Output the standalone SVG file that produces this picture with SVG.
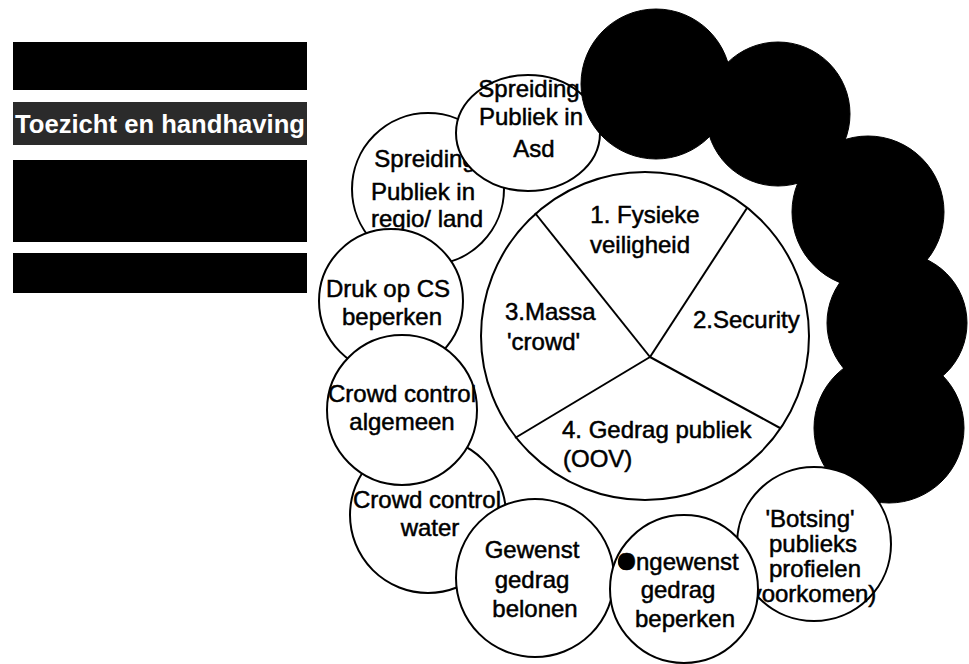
<svg xmlns="http://www.w3.org/2000/svg" width="969" height="664" viewBox="0 0 969 664">
<style>
.bx{fill:#000}
.wc{fill:#fff;stroke:#000;stroke-width:2}
.bc{fill:#000;stroke:#000;stroke-width:1}
.t{font-family:"Liberation Sans",Arial,sans-serif;font-size:24px;fill:#000;stroke:#000;stroke-width:0.5;text-anchor:middle}
.tl{font-family:"Liberation Sans",Arial,sans-serif;font-size:24px;fill:#000;stroke:#000;stroke-width:0.5}
.sp{stroke:#000;stroke-width:2;fill:none}
</style>
<rect width="969" height="664" fill="#fff"/>
<g id="box1"><rect class="bx" x="13" y="42" width="294" height="48"/></g>
<g id="box2"><rect x="13" y="102" width="294" height="43" fill="#2b2b2b"/>
<text x="15" y="133" font-family="'Liberation Sans',Arial,sans-serif" font-size="25" font-weight="bold" fill="#fff" textLength="290" lengthAdjust="spacingAndGlyphs">Toezicht en handhaving</text></g>
<g id="box3"><rect class="bx" x="13" y="160" width="294" height="82"/></g>
<g id="box4"><rect class="bx" x="13" y="253" width="294" height="40"/></g>

<g id="center">
<circle class="wc" cx="645" cy="336" r="164"/>
<g id="connectors">
<line class="sp" x1="650" y1="357" x2="535" y2="213"/>
<line class="sp" x1="650" y1="357" x2="747" y2="208"/>
<line class="sp" x1="650" y1="357" x2="515" y2="438"/>
<line class="sp" x1="650" y1="357" x2="780" y2="428"/>
</g>
<text class="t" x="645" y="223">1. Fysieke</text>
<text class="t" x="640" y="253">veiligheid</text>
<text class="tl" x="693" y="328">2.Security</text>
<text class="tl" x="505" y="320">3.Massa</text>
<text class="tl" x="507" y="350">'crowd'</text>
<text class="tl" x="562" y="438">4. Gedrag publiek</text>
<text class="tl" x="563" y="467">(OOV)</text>
</g>

<g id="regio"><circle class="wc" cx="428" cy="189" r="76"/>
<text class="t" x="425" y="167">Spreiding</text>
<text class="t" x="423" y="200">Publiek in</text>
<text class="t" x="427" y="227">regio/ land</text></g>

<g id="asd"><ellipse class="wc" cx="528" cy="133" rx="72" ry="58"/>
<text class="t" x="529" y="97">Spreiding</text>
<text class="t" x="531" y="125">Publiek in</text>
<text class="t" x="534" y="157">Asd</text></g>

<g id="black1"><circle class="bc" cx="656" cy="84" r="75"/></g>
<g id="black2"><circle class="bc" cx="778" cy="114" r="72"/></g>
<g id="black3"><circle class="bc" cx="868" cy="212" r="76"/></g>
<g id="black4"><circle class="bc" cx="897" cy="323" r="70"/></g>
<g id="black5"><circle class="bc" cx="889" cy="428" r="75"/></g>

<g id="water"><circle class="wc" cx="428" cy="515" r="78"/>
<text class="t" x="427" y="508">Crowd control</text>
<text class="t" x="430" y="536">water</text></g>

<g id="druk"><circle class="wc" cx="391" cy="301" r="72"/>
<text class="t" x="388" y="297">Druk op CS</text>
<text class="t" x="392" y="325">beperken</text></g>

<g id="algemeen"><circle class="wc" cx="402" cy="410" r="75"/>
<text class="t" x="402" y="402">Crowd control</text>
<text class="t" x="402" y="430">algemeen</text></g>

<g id="botsing"><circle class="wc" cx="814" cy="544" r="77"/>
<text class="t" x="810" y="527" font-size="23">'Botsing'</text>
<text class="t" x="813" y="552" font-size="23">publieks</text>
<text class="t" x="815" y="577" font-size="23">profielen</text>
<text class="t" x="813" y="602" font-size="23">voorkomen)</text></g>

<g id="gewenst"><circle class="wc" cx="535" cy="578" r="79"/>
<text class="t" x="532" y="558">Gewenst</text>
<text class="t" x="532" y="588">gedrag</text>
<text class="t" x="535" y="617">belonen</text></g>

<g id="ongewenst"><circle class="wc" cx="684" cy="589" r="74"/>
<text class="t" x="678" y="570">Ongewenst</text>
<circle cx="626" cy="562" r="8" fill="#000"/>
<text class="t" x="678" y="598">gedrag</text>
<text class="t" x="685" y="627">beperken</text></g>
</svg>
